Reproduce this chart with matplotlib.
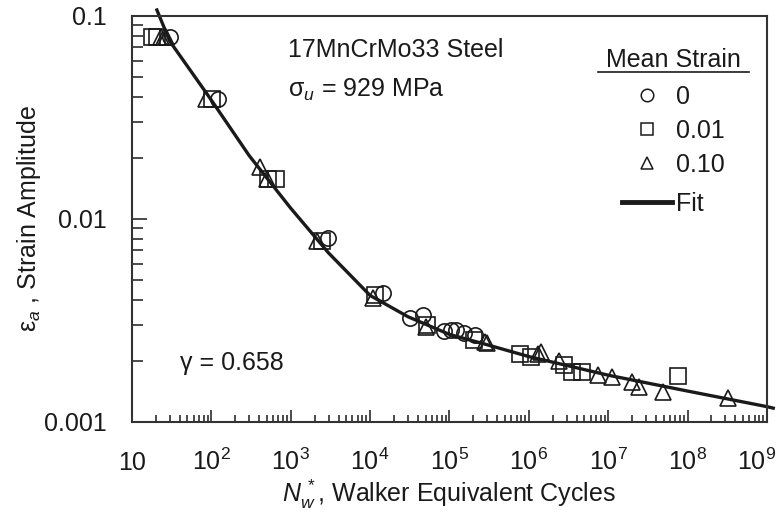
import matplotlib
matplotlib.use("Agg")
import matplotlib.pyplot as plt
from matplotlib.lines import Line2D
from matplotlib.ticker import NullFormatter
from matplotlib.transforms import ScaledTranslation

plt.rcParams.update({"font.family": "Liberation Sans", "font.size": 18,
                     "mathtext.fontset": "custom",
                     "mathtext.rm": "Liberation Sans",
                     "mathtext.it": "Liberation Sans:italic",
                     "mathtext.default": "regular"})
INK = "#1a1a1a"

# mean strain 0 (circles)
n_zero = [30.1, 121, 2940, 14500, 31800, 46400, 85300, 104400, 121000, 152000, 210000]
ea_zero = [0.079, 0.039, 0.0081, 0.0043, 0.00325, 0.00335, 0.00281, 0.00284, 0.00284, 0.00274, 0.00268]
# mean strain 0.01 (squares)
n_001 = [18.0, 20.5, 102, 517, 652, 2480, 11500, 52100, 204000, 773000, 1.06e6,
         2.77e6, 3.49e6, 4.67e6, 7.57e7]
ea_001 = [0.079, 0.079, 0.039, 0.0157, 0.0157, 0.0078, 0.0042, 0.0030, 0.00252, 0.00217, 0.00209,
          0.00191, 0.00176, 0.00176, 0.00169]
# mean strain 0.10 (triangles)
n_010 = [23, 25, 27, 85.5, 410, 502, 2140, 10900, 50600, 280000, 296000, 1.3e6, 1.42e6,
         2.40e6, 7.43e6, 1.11e7, 1.99e7, 2.44e7, 4.9e7, 3.23e8]
ea_010 = [0.079, 0.079, 0.079, 0.039, 0.018, 0.0157, 0.0078, 0.0041, 0.00294, 0.00248, 0.00245,
          0.00215, 0.00221, 0.0020, 0.0017, 0.00167, 0.00157, 0.00149, 0.00141, 0.00131]
# fitted curve
fit_n = [20.6, 30, 100, 300, 1000, 3000, 1e4, 3e4, 1e5, 3e5, 1e6, 1e7, 1e8, 1e9, 1.2e9]
fit_ea = [0.107, 0.075, 0.0385, 0.0205, 0.0113, 0.0068, 0.0042, 0.0033, 0.0027, 0.0024,
          0.0021, 0.0017, 0.00142, 0.00119, 0.00117]

strain_labels = ["0", "0.01", "0.10"]
x_ticks = [1e1, 1e2, 1e3, 1e4, 1e5, 1e6, 1e7, 1e8, 1e9]
x_ticklabels = ["10"] + [f"$10^{{{k}}}$" for k in range(2, 10)]
y_ticks = [0.001, 0.01, 0.1]
y_ticklabels = ["0.001", "0.01", "0.1"]

fig = plt.figure(figsize=(7.8, 5.24), dpi=100)
ax = fig.add_axes([0.1692, 0.1947, 0.8141, 0.7748])
ax.set_xscale("log"); ax.set_yscale("log")
ax.set_xlim(10, 1e9); ax.set_ylim(0.001, 0.1)

ax.plot(fit_n, fit_ea, color=INK, lw=2.4, clip_on=False, zorder=2)
mk = dict(ls="none", mfc="none", mec=INK, mew=1.2, ms=11, zorder=3)
ax.plot(n_zero, ea_zero, marker="o", **mk)
ax.plot(n_001, ea_001, marker="s", **mk)
ax.plot(n_010, ea_010, marker="^", **mk)

ax.set_xticks(x_ticks, x_ticklabels)
ax.set_yticks(y_ticks, y_ticklabels)
ax.xaxis.set_minor_formatter(NullFormatter())
ax.yaxis.set_minor_formatter(NullFormatter())
ax.tick_params(which="both", direction="in", top=False, right=False, colors=INK, width=1.1)
ax.tick_params(axis="x", which="major", length=9, pad=34.6)
ax.tick_params(axis="x", which="minor", length=5)
ax.tick_params(axis="y", which="major", length=11, pad=18)
ax.tick_params(axis="y", which="minor", length=8)
xlabels = ax.get_xticklabels()
for lbl in xlabels:
    lbl.set_verticalalignment("baseline")
# last label sits a little left so it stays inside the figure
xlabels[-1].set_transform(xlabels[-1].get_transform() + ScaledTranslation(-10 / 100, 0, fig.dpi_scale_trans))
for s in ax.spines.values():
    s.set_linewidth(1.5); s.set_color("#333333")

ax.set_xlabel(r"$\mathit{N}^{\,*}_{\mathit{w}}$, Walker Equivalent Cycles", color=INK)
ax.set_ylabel(r"$\varepsilon_{\mathit{a}}$ , Strain Amplitude", color=INK)
ax.xaxis.set_label_coords(0.5, -0.138)
ax.yaxis.set_label_coords(-0.14, 0.5)

ax.text(0.2457, 0.899, "17MnCrMo33 Steel", transform=ax.transAxes, va="baseline", color=INK)
ax.text(0.2457, 0.800, r"$\sigma_{\mathit{u}}$ = 929 MPa", transform=ax.transAxes, va="baseline", color=INK)
ax.text(0.0756, 0.128, "γ = 0.658", transform=ax.transAxes, va="baseline", color=INK)

# legend: underlined title, marker rows, then the fit row
ax.text(0.852, 0.874, "Mean Strain", transform=ax.transAxes, ha="center", va="baseline", color=INK)
ax.plot([0.734, 0.972], [0.862, 0.862], transform=ax.transAxes, color=INK, lw=1.2, clip_on=False)
hs = [Line2D([], [], ls="none", marker=m, mfc="none", mec=INK, mew=1.1, ms=9) for m in "os^"]
leg_kw = dict(loc="upper left", frameon=False, borderpad=0, borderaxespad=0,
              handlelength=2.0, handletextpad=0.15, labelcolor=INK)
leg1 = ax.legend(hs, strain_labels, bbox_to_anchor=(0.7717, 0.8300), labelspacing=0.39, **leg_kw)
ax.add_artist(leg1)
ax.legend([Line2D([], [], color=INK, lw=3.5)], ["Fit"], bbox_to_anchor=(0.7717, 0.566), **leg_kw)

fig.savefig("out.png", dpi=100)
